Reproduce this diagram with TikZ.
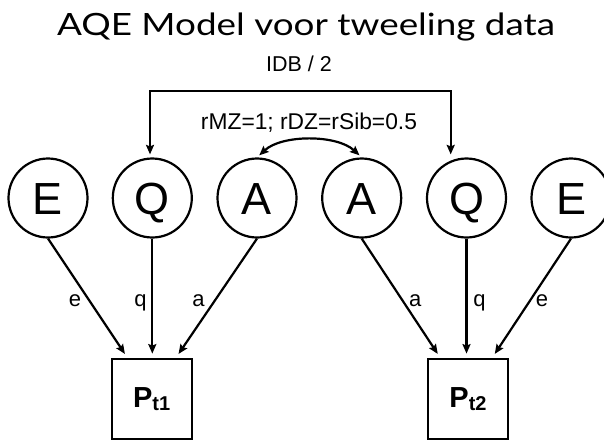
\documentclass[tikz,border=0pt]{standalone}
\usepackage{fontspec}
\setmainfont{Liberation Sans}
\newfontfamily\titlefont{Lato}
\usetikzlibrary{arrows.meta}
\begin{document}
\begin{tikzpicture}[x=1pt,y=-1pt,
  line width=2.2pt,
  >={Stealth[length=9.5pt,width=8pt,inset=1.5pt]},
  latent/.style={draw,circle,minimum size=79pt,inner sep=0pt,
    font=\fontsize{45}{45}\selectfont,text height=32.2pt,text depth=0pt},
  manifest/.style={draw,rectangle,minimum width=80pt,minimum height=80pt,inner sep=0pt,
    font=\fontsize{29}{29}\selectfont\bfseries},
  arr/.style={->,shorten >=5pt},
  darr/.style={<->,shorten >=3pt,shorten <=3pt},
  lbl/.style={font=\fontsize{22}{22}\selectfont,inner sep=0pt,anchor=base},
  small/.style={font=\fontsize{22}{22}\selectfont,inner sep=0pt,anchor=base}]
\fill[white] (0,0) rectangle (604,442);
\useasboundingbox (0,0) rectangle (604,442);
\node[font=\titlefont\fontsize{30.7}{30.7}\selectfont,inner sep=0pt,anchor=base] (title) at (306,35) {\scalebox{1.2}[1]{AQE Model voor tweeling data}};
\node[small,font=\fontsize{21.5}{21.5}\selectfont] (idb) at (299,71.7) {IDB / 2};
\node[small,font=\fontsize{22.8}{22.8}\selectfont] (rmz) at (309,129.3) {rMZ=1; rDZ=rSib=0.5};
\node[latent] (E1) at (48,198) {E};
\node[latent] (Q1) at (152.3,198) {Q};
\node[latent] (A1) at (257,198) {A};
\node[latent] (A2) at (361.7,198) {A};
\node[latent] (Q2) at (466.5,198) {Q};
\node[latent] (E2) at (571,198) {E};
\node[manifest] (P1) at (151.7,399.2) {P{\fontsize{20}{20}\selectfont\raisebox{-2.3pt}{t1}}};
\node[manifest] (P2) at (468,399.2) {P{\fontsize{20}{20}\selectfont\raisebox{-2.3pt}{t2}}};
\coordinate (bl) at (150,91);
\coordinate (br) at (450.7,91);
\draw[darr] (bl|-Q1.north) -- (bl) -- (br) -- (br|-Q2.north);
\draw[darr] (A1.north) .. controls +(25,-23) and +(-25,-23) .. (A2.north);
\draw[arr] (E1.south) -- ([xshift=-24pt]P1.north);
\draw[arr,shorten >=4.5pt] (Q1.south) -- (Q1.south|-P1.north);
\draw[arr] (A1.south) -- ([xshift=24pt]P1.north);
\draw[arr] (A2.south) -- ([xshift=-27.5pt]P2.north);
\draw[arr,shorten >=4.5pt] (Q2.south) -- (Q2.south|-P2.north);
\draw[arr] (E2.south) -- ([xshift=24pt]P2.north);
\node[lbl] (le1) at (75,306.7) {e};
\node[lbl] (lq1) at (140.6,306.7) {q};
\node[lbl] (la1) at (198.4,306.7) {a};
\node[lbl] (la2) at (415.3,306.7) {a};
\node[lbl] (lq2) at (479.6,306.7) {q};
\node[lbl] (le2) at (542,306.7) {e};
\end{tikzpicture}
\end{document}
